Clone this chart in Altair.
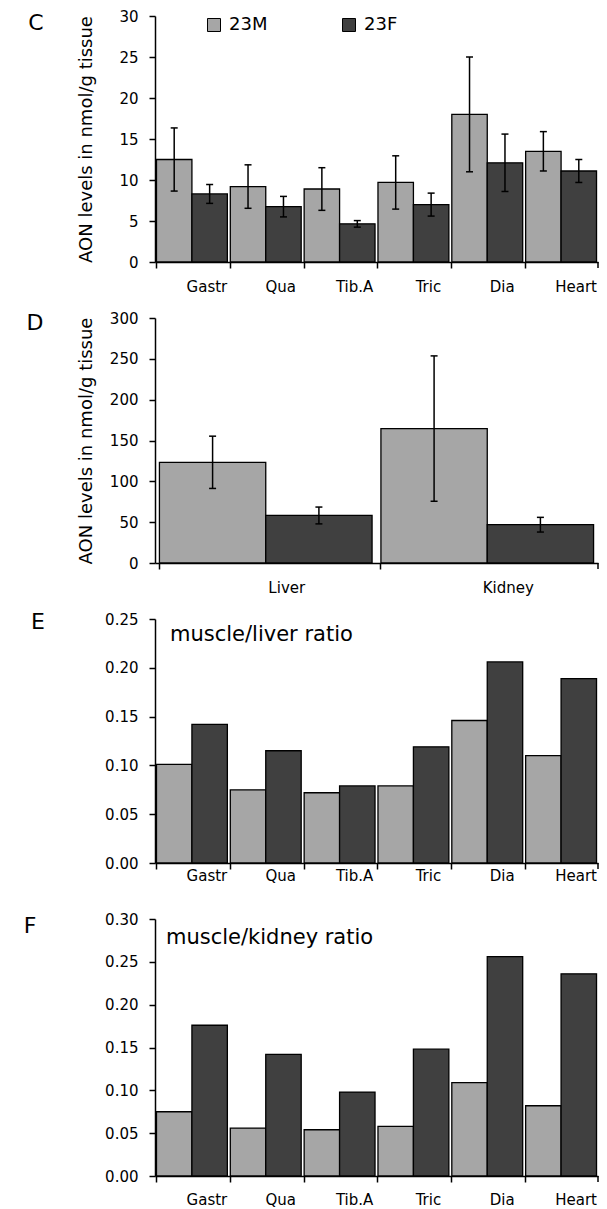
import altair as alt
import pandas as pd

FONT = "DejaVu Sans"
LIGHT = "#a6a6a6"
DARK = "#404040"

sexes = ["23M", "23F"]
tissues = ["Gastr", "Qua", "Tib.A", "Tric", "Dia", "Heart"]
organs = ["Liver", "Kidney"]

# Panel C: AON levels in muscles (mean, error)
c_23m_mean = [12.5, 9.2, 8.9, 9.7, 18.0, 13.5]
c_23m_err = [3.85, 2.65, 2.6, 3.25, 7.0, 2.4]
c_23f_mean = [8.3, 6.75, 4.65, 7.0, 12.1, 11.1]
c_23f_err = [1.15, 1.25, 0.4, 1.4, 3.5, 1.4]

# Panel D: AON levels in liver and kidney
d_23m_mean = [123.3, 164.6]
d_23m_err = [32.0, 89.0]
d_23f_mean = [58.2, 46.9]
d_23f_err = [10.3, 9.0]

# Panel E: muscle/liver ratio
e_23m = [0.101, 0.075, 0.072, 0.079, 0.146, 0.110]
e_23f = [0.142, 0.115, 0.079, 0.119, 0.206, 0.189]

# Panel F: muscle/kidney ratio
f_23m = [0.075, 0.056, 0.054, 0.058, 0.109, 0.082]
f_23f = [0.176, 0.142, 0.098, 0.148, 0.256, 0.236]

W = 443


def long_df(cats, m_vals, f_vals, m_err=None, f_err=None):
    rows = []
    for i, c in enumerate(cats):
        for sex, vals, errs in (("23M", m_vals, m_err), ("23F", f_vals, f_err)):
            v = vals[i]
            e = errs[i] if errs is not None else 0.0
            rows.append({"cat": c, "sex": sex, "val": v, "lo": v - e, "hi": v + e})
    return pd.DataFrame(rows)


def panel(df, cats, height, ymax, yvals, yfmt, ytitle, letter, letter_xy,
          label_offset, x_label_pad, title_pad=20, legend=False,
          ratio_title=None, ratio_xy=None, errors=False):
    xscale = alt.Scale(paddingInner=0.04, paddingOuter=0.02)
    xaxis = alt.Axis(title=None, bandPosition=0, labelOffset=label_offset,
                     labelPadding=x_label_pad, tickSize=6, labelAngle=0,
                     domainColor="black", tickColor="black", domainWidth=1.5,
                     tickWidth=1.5, labelFontSize=15, labelColor="black",
                     labelFont=FONT)
    yaxis = alt.Axis(values=yvals, format=yfmt, title=ytitle, grid=False,
                     tickSize=6, labelPadding=11, domainColor="black",
                     tickColor="black", domainWidth=1.5, tickWidth=1.5,
                     labelFontSize=15, labelColor="black", labelFont=FONT,
                     titleFont=FONT, titleFontSize=18, titleFontWeight="normal",
                     titleColor="black", titlePadding=title_pad)
    if legend:
        leg = alt.Legend(orient="none", legendX=50, legendY=0,
                         direction="horizontal", title=None,
                         symbolType="square", symbolSize=169,
                         symbolStrokeColor="black", symbolStrokeWidth=1,
                         symbolOpacity=1, labelFontSize=18, labelFont=FONT,
                         labelColor="black", labelOffset=6, columnPadding=72)
    else:
        leg = None
    color = alt.Color("sex:N", sort=sexes,
                      scale=alt.Scale(domain=sexes, range=[LIGHT, DARK]),
                      legend=leg)
    base = alt.Chart(df)
    bars = base.mark_bar(stroke="black", strokeWidth=1.3, opacity=1).encode(
        x=alt.X("cat:N", sort=cats, scale=xscale, axis=xaxis),
        xOffset=alt.XOffset("sex:N", sort=sexes,
                            scale=alt.Scale(paddingInner=0, paddingOuter=0)),
        y=alt.Y("val:Q", scale=alt.Scale(domain=[0, ymax], nice=False),
                axis=yaxis),
        color=color,
    )
    layers = [bars]
    if errors:
        xo = alt.XOffset("sex:N", sort=sexes)
        xe = alt.X("cat:N", sort=cats)
        rule = base.mark_rule(color="black", strokeWidth=1.5).encode(
            x=xe, xOffset=xo, y=alt.Y("lo:Q", title=ytitle), y2="hi:Q")
        cap_lo = base.mark_tick(color="black", size=7, thickness=1.5,
                                opacity=1).encode(
            x=xe, xOffset=xo, y=alt.Y("lo:Q", title=ytitle))
        cap_hi = base.mark_tick(color="black", size=7, thickness=1.5,
                                opacity=1).encode(
            x=xe, xOffset=xo, y=alt.Y("hi:Q", title=ytitle))
        layers += [rule, cap_lo, cap_hi]
    end_tick = alt.Chart(pd.DataFrame({"a": [0]})).mark_rule(
        color="black", strokeWidth=1.5).encode(
        x=alt.value(W), y=alt.value(height), y2=alt.value(height + 6))
    letter_mark = alt.Chart(pd.DataFrame({"t": [letter]})).mark_text(
        font=FONT, fontSize=22, align="center", baseline="middle",
        color="black").encode(text="t:N", x=alt.value(letter_xy[0]),
                              y=alt.value(letter_xy[1]))
    layers += [end_tick, letter_mark]
    if ratio_title:
        rt = alt.Chart(pd.DataFrame({"t": [ratio_title]})).mark_text(
            font=FONT, fontSize=21, align="left", baseline="middle",
            color="black").encode(text="t:N", x=alt.value(ratio_xy[0]),
                                  y=alt.value(ratio_xy[1]))
        layers.append(rt)
    return alt.layer(*layers).properties(width=W, height=height)


df_c = long_df(tissues, c_23m_mean, c_23f_mean, c_23m_err, c_23f_err)
df_d = long_df(organs, d_23m_mean, d_23f_mean, d_23m_err, d_23f_err)
df_e = long_df(tissues, e_23m, e_23f)
df_f = long_df(tissues, f_23m, f_23f)

pc = panel(df_c, tissues, 246, 30, [0, 5, 10, 15, 20, 25, 30], "d",
           "AON levels in nmol/g tissue", "C", (-119, 7), 15, 11,
           title_pad=23, legend=True, errors=True)
pd_ = panel(df_d, organs, 245, 300, [0, 50, 100, 150, 200, 250, 300], "d",
            "AON levels in nmol/g tissue", "D", (-120, 5), 21, 11,
            title_pad=14, errors=True)
pe = panel(df_e, tissues, 244, 0.25, [0, 0.05, 0.10, 0.15, 0.20, 0.25], ".2f",
           None, "E", (-117, 3), 15, -1, ratio_title="muscle/liver ratio",
           ratio_xy=(15, 16))
pf = panel(df_f, tissues, 257, 0.30, [0, 0.05, 0.10, 0.15, 0.20, 0.25, 0.30],
           ".2f", None, "F", (-125, 7), 15, 10,
           ratio_title="muscle/kidney ratio", ratio_xy=(11, 19))

chart = alt.vconcat(pc, pd_, pe, pf, spacing=56, bounds="flush").resolve_scale(
    color="independent", x="independent", y="independent",
    xOffset="independent"
).properties(
    padding={"left": 15, "top": 1, "right": 0, "bottom": 0}
).configure(font=FONT).configure_view(stroke=None)

chart.save("out.html", embed_options={"renderer": "svg", "actions": False})
